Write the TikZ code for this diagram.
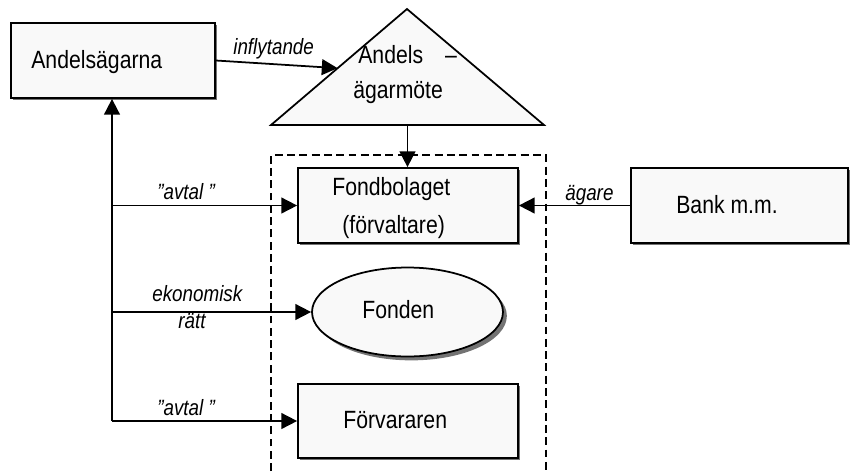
\documentclass[tikz,border=0pt]{standalone}
\usepackage{fontspec}
\setmainfont[FakeStretch=0.85]{Liberation Sans}
\usetikzlibrary{arrows.meta,shadows,calc,shapes.geometric}

\definecolor{boxfill}{gray}{0.975}

\tikzset{
  box/.style={draw, line width=1pt, fill=boxfill, inner sep=0pt,
    drop shadow={shadow xshift=1.4pt, shadow yshift=-1.4pt, fill=black!55, opacity=1}},
  txt/.style={anchor=base west, inner sep=0pt, font=\fontsize{14.2}{16}\selectfont},
  lbl/.style={anchor=base west, inner sep=0pt, font=\fontsize{12.6}{14}\selectfont\itshape},
  arr/.style={line width=1pt, -{Triangle[length=9pt,width=9pt]}}
}

\begin{document}
\begin{tikzpicture}[x=0.02cm,y=-0.02cm]
\useasboundingbox (0,0) rectangle (853,471);

% boxes
\node[box, minimum width=4.08cm, minimum height=1.5cm] (ag) at (113,60.5) {};
\node[box, minimum width=4.4cm, minimum height=1.5cm] (fb) at (408,205.5) {};
\node[box, minimum width=4.4cm, minimum height=1.48cm] (fv) at (408,421) {};
\node[box, minimum width=4.34cm, minimum height=1.5cm] (bank) at (739.5,205.5) {};
\node[box, ellipse, minimum width=3.82cm, minimum height=1.78cm,
  drop shadow={shadow xshift=2.2pt, shadow yshift=-2.2pt, fill=black!55, opacity=1}] (fonden) at (407.5,312) {};

% triangle
\coordinate (tl) at (271,125);
\coordinate (tr) at (544,125);
\coordinate (tt) at (407,9);
\coordinate (tb) at (407.5,125);
\draw[line width=1pt, fill=boxfill] (tl) -- (tt) -- (tr) -- cycle;
\coordinate (inf) at ($(tl)!0.49!(tt)$);

% dashed frame
\draw[line width=1pt, dash pattern=on 4.5pt off 2.5pt] (271,471) -- (271,155) -- (546,155) -- (546,471);

% texts
\node[txt] (agtxt) at (31,68) {Andelsägarna};
\node[txt] (am1) at (358,63) {Andels};
\node[txt, anchor=base] (am2) at (451,63) {–};
\node[txt] (am3) at (353,98) {ägarmöte};
\node[txt] (fb1) at (332,195) {Fondbolaget};
\node[txt] (fb2) at (342,233) {(förvaltare)};
\node[txt] (fo) at (362,318) {Fonden};
\node[txt] (fvtxt) at (343,428) {Förvararen};
\node[txt] (banktxt) at (676,213) {Bank m.m.};

% labels
\node[lbl] (linf) at (233,54) {inflytande};
\node[lbl] (lav1) at (157,199) {”avtal ”};
\node[lbl] (lek) at (152,301) {ekonomisk};
\node[lbl] (lra) at (178,328) {rätt};
\node[lbl] (lav2) at (157,415) {”avtal ”};
\node[lbl] (lag) at (565,200) {ägare};

% connectors
\coordinate (c) at (112,421);
\draw[arr] (ag.east) -- (inf);
\draw[arr] (tb) -- (tb |- fb.north);
\draw[arr] (bank.west) -- (fb.east);
\draw[arr] (c) -- (c |- ag.south);
\draw[arr] (c |- fb.west) -- (fb.west);
\draw[arr] (c |- fonden.west) -- (fonden.west);
\draw[arr] (c) -- (fv.west);
\end{tikzpicture}
\end{document}
